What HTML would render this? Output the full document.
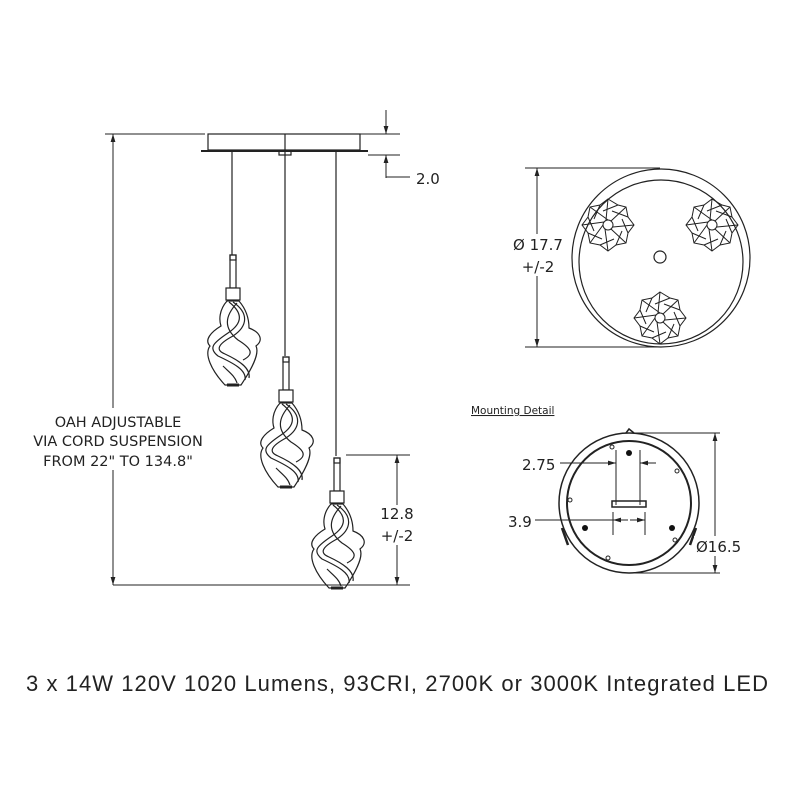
<!DOCTYPE html>
<html><head><meta charset="utf-8"><style>
html,body{margin:0;padding:0;background:#fff;}
svg{display:block}
text{font-family:"DejaVu Sans","Liberation Sans",sans-serif;fill:#222}
</style></head><body>
<svg width="800" height="800" viewBox="0 0 800 800" xmlns="http://www.w3.org/2000/svg">
<defs>
<marker id="ar" viewBox="0 0 10 10" refX="10" refY="5" markerWidth="8" markerHeight="8" orient="auto-start-reverse"><path d="M0,2 L10,5 L0,8 Z" fill="#222"/></marker>
<g id="pend" fill="none" stroke="#222" stroke-width="1.2">
<rect x="-3" y="-33" width="6" height="33" fill="#fff"/>
<rect x="-3" y="-33" width="6" height="5"/>
<rect x="-7" y="0" width="14" height="12" fill="#fff"/>
<path d="M-6,13 C-14,22 -14,32 -12,38 C-22,44 -29,52 -23,58 C-29,66 -22,82 -8,97 L8,97 C18,82 27,66 23,58 C31,52 27,44 16,40 C16,28 12,20 6,13 Z"/>
<path d="M-4,14 C10,25 10,35 -5,45 C-20,55 -25,60 -15,68 C0,75 14,82 12,92"/>
<path d="M0,14 C16,25 15,38 0,48 C-15,56 -18,62 -8,66 C5,72 18,80 16,90"/>
<path d="M4,15 C-8,28 -10,40 5,52 C18,60 22,66 10,72"/>
<path d="M-10,78 C-4,84 2,88 4,95"/>
<path d="M-6,97 L6,97" stroke-width="3"/>
</g>
<g id="flw" fill="none" stroke="#222" stroke-width="1">
<path d="M0,-26 L10,-20 L18,-18 L20,-8 L26,0 L20,8 L18,18 L8,20 L0,26 L-8,20 L-18,18 L-20,8 L-26,0 L-20,-8 L-18,-18 L-8,-20 Z"/>
<circle r="5"/>
<path d="M0,-26 L-2,-5 M18,-18 L3,-4 M26,0 L5,2 M18,18 L3,4 M0,26 L-3,4 M-18,18 L-5,0 M-26,0 L-4,-3 M-18,-18 L0,-5"/>
<path d="M10,-20 L-5,-14 M20,-8 L4,-14 M20,8 L14,-6 M8,20 L14,6 M-8,20 L6,14 M-20,8 L-6,14 M-20,-8 L-14,6 M-8,-20 L-14,-6"/>
</g>
</defs>

<g stroke="#222" fill="none" stroke-width="1.2">
<rect x="208" y="134" width="152" height="16"/>
<line x1="285" y1="134" x2="285" y2="150"/>
<line x1="201" y1="151" x2="368" y2="151" stroke-width="2"/>
<line x1="232" y1="152" x2="232" y2="256"/>
<line x1="285" y1="152" x2="285" y2="356"/>
<line x1="336" y1="152" x2="336" y2="456"/>
<rect x="279" y="151" width="12" height="4"/>
<line x1="105" y1="134" x2="205" y2="134" stroke-width="1"/>
<line x1="360" y1="134" x2="400" y2="134" stroke-width="1"/>
<line x1="368" y1="155" x2="400" y2="155" stroke-width="1"/>
<line x1="113" y1="585" x2="410" y2="585" stroke-width="1"/>
<line x1="346" y1="455" x2="410" y2="455" stroke-width="1"/>
<line x1="113" y1="134" x2="113" y2="585" stroke-width="1" marker-start="url(#ar)" marker-end="url(#ar)"/>
<line x1="386" y1="110" x2="386" y2="134" stroke-width="1" marker-end="url(#ar)"/>
<line x1="386" y1="178" x2="386" y2="155" stroke-width="1" marker-end="url(#ar)"/>
<polyline points="386,177 410,177" stroke-width="1"/>
<line x1="397" y1="455" x2="397" y2="585" stroke-width="1" marker-start="url(#ar)" marker-end="url(#ar)"/>
</g>
<use href="#pend" x="233" y="288"/>
<use href="#pend" x="286" y="390"/>
<use href="#pend" x="337" y="491"/>
<rect x="380" y="505" width="36" height="40" fill="#fff"/>
<text x="416" y="184" font-size="15">2.0</text>
<text x="397" y="519" font-size="15" text-anchor="middle">12.8</text>
<text x="397" y="541" font-size="15" text-anchor="middle">+/-2</text>
<rect x="30" y="408" width="180" height="62" fill="#fff"/>
<g font-size="14.5" text-anchor="middle">
<text x="118" y="427">OAH ADJUSTABLE</text>
<text x="118" y="446">VIA CORD SUSPENSION</text>
<text x="118" y="466">FROM 22" TO 134.8"</text>
</g>

<g stroke="#222" fill="none" stroke-width="1.2">
<circle cx="661" cy="258" r="89"/>
<circle cx="661" cy="262" r="82"/>
<circle cx="660" cy="257" r="6"/>
<line x1="525" y1="168" x2="660" y2="168" stroke-width="1"/>
<line x1="525" y1="347" x2="660" y2="347" stroke-width="1"/>
<line x1="537" y1="168" x2="537" y2="347" stroke-width="1" marker-start="url(#ar)" marker-end="url(#ar)"/>
</g>
<use href="#flw" x="608" y="225"/>
<use href="#flw" x="712" y="225"/>
<use href="#flw" x="660" y="318"/>
<rect x="514" y="234" width="48" height="42" fill="#fff"/>
<text x="538" y="250" font-size="15" text-anchor="middle">Ø 17.7</text>
<text x="538" y="272" font-size="15" text-anchor="middle">+/-2</text>

<text x="471" y="414" font-size="10.5" text-decoration="underline">Mounting  Detail</text>
<g stroke="#222" fill="none" stroke-width="1.2">
<circle cx="629" cy="503" r="70" stroke-width="1.5"/>
<circle cx="629" cy="503" r="62" stroke-width="2"/>
<line x1="629" y1="433" x2="720" y2="433" stroke-width="1"/>
<line x1="629" y1="573" x2="720" y2="573" stroke-width="1"/>
<line x1="715" y1="433" x2="715" y2="573" stroke-width="1" marker-start="url(#ar)" marker-end="url(#ar)"/>
<line x1="616" y1="450" x2="616" y2="505" stroke-width="1"/>
<line x1="640" y1="450" x2="640" y2="505" stroke-width="1"/>
<line x1="560" y1="463" x2="616" y2="463" stroke-width="1" marker-end="url(#ar)"/>
<line x1="656" y1="463" x2="640" y2="463" stroke-width="1" marker-end="url(#ar)"/>
<rect x="612" y="501" width="34" height="6" stroke-width="1.5"/>
<line x1="613" y1="512" x2="613" y2="535" stroke-width="1"/>
<line x1="645" y1="512" x2="645" y2="535" stroke-width="1"/>
<line x1="535" y1="520" x2="628" y2="520" stroke-width="1"/>
<line x1="628" y1="520" x2="613" y2="520" stroke-width="1" marker-end="url(#ar)"/>
<line x1="630" y1="520" x2="645" y2="520" stroke-width="1" marker-end="url(#ar)"/>
<circle cx="612" cy="447" r="2" stroke-width="1"/>
<circle cx="677" cy="471" r="2" stroke-width="1"/>
<circle cx="570" cy="500" r="2" stroke-width="1"/>
<circle cx="675" cy="540" r="2" stroke-width="1"/>
<circle cx="608" cy="558" r="2" stroke-width="1"/>
<path d="M626,433 L629,429 L634,433" stroke-width="1.5"/>
<path d="M562,528 L568,545 M696,528 L690,545" stroke-width="2.5"/>
</g>
<circle cx="629" cy="453" r="3" fill="#111"/>
<circle cx="585" cy="528" r="3" fill="#111"/>
<circle cx="672" cy="528" r="3" fill="#111"/>
<text x="522" y="470" font-size="15">2.75</text>
<text x="508" y="527" font-size="15">3.9</text>
<rect x="694" y="536" width="42" height="20" fill="#fff"/>
<text x="696" y="552" font-size="15">Ø16.5</text>

<text x="26" y="691" font-size="22" textLength="742" lengthAdjust="spacing" style="font-family:'Liberation Sans',sans-serif" fill="#000">3 x 14W 120V 1020 Lumens, 93CRI, 2700K or 3000K Integrated LED</text>
</svg>
</body></html>
